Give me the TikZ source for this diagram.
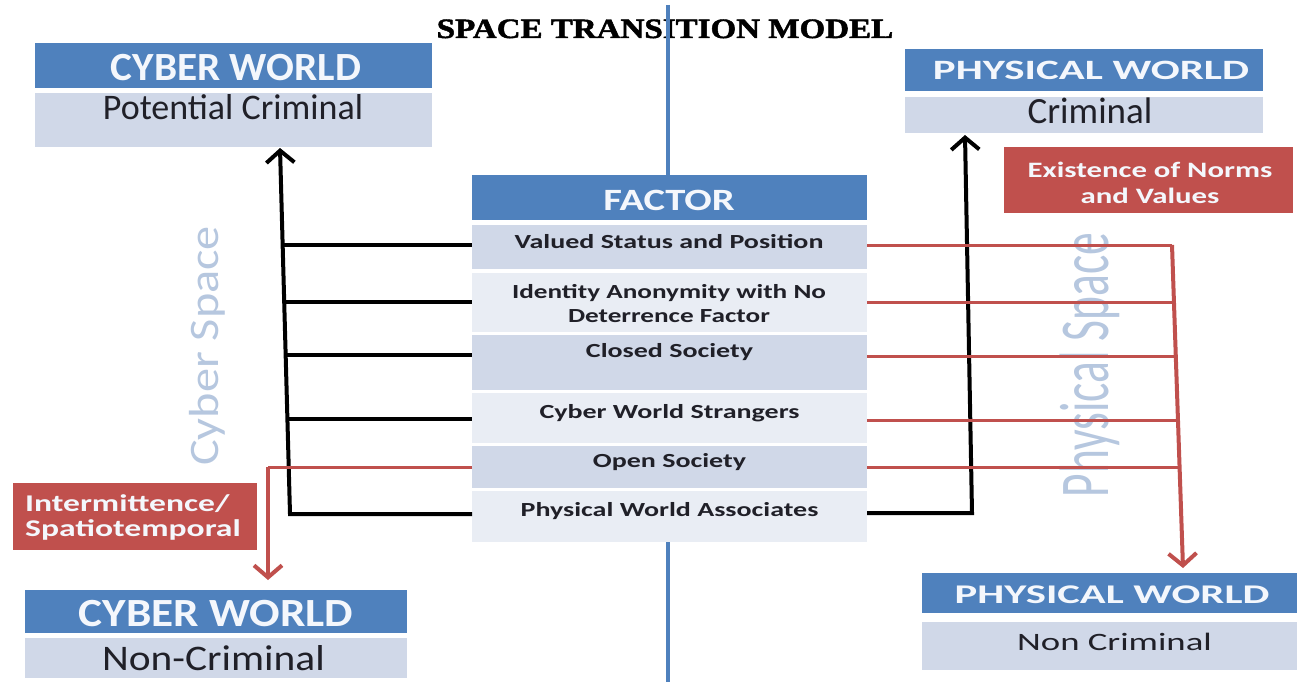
\documentclass[tikz,border=0pt]{standalone}
\usepackage{graphicx}
\usepackage{fontspec}
\setmainfont{Carlito}
\newfontfamily\titlefont{Liberation Serif}[BoldFeatures={FakeBold=1.6}]
\usetikzlibrary{arrows.meta}
\definecolor{hdrblue}{RGB}{79,129,189}
\definecolor{rowdark}{RGB}{208,216,232}
\definecolor{rowlight}{RGB}{233,237,244}
\definecolor{redbox}{RGB}{192,80,77}
\definecolor{spacetxt}{RGB}{182,199,223}
\definecolor{txtdark}{RGB}{32,32,40}
\definecolor{hdrtxt}{RGB}{244,247,252}
% size, baselineskip, horizontal scale, text
\newcommand{\sx}[4]{\scalebox{#3}[1]{\fontsize{#1pt}{#2pt}\selectfont #4}}
\begin{document}
\begin{tikzpicture}[x=1pt,y=-1pt,
  box/.style={inner sep=0pt, outer sep=0pt, draw=none},
  hdr/.style={box, fill=hdrblue},
  bodyb/.style={box, fill=rowdark},
  rowD/.style={box, fill=rowdark, minimum width=395pt},
  rowL/.style={box, fill=rowlight, minimum width=395pt},
  redb/.style={box, fill=redbox},
  lbl/.style={inner sep=0pt, anchor=base},
  mlbl/.style={inner sep=0pt},
  blk/.style={line width=4pt, black, line join=miter},
  blkarr/.style={blk, -{Straight Barb[length=12pt,width=28pt]}},
  redh/.style={line width=3pt, redbox},
  redv/.style={line width=4pt, redbox, line join=miter},
  redarr/.style={redv, -{Straight Barb[length=12pt,width=28pt]}}
]
\useasboundingbox (0,0) rectangle (1297,682);
\fill[white] (0,0) rectangle (1297,682);

% title
\node[lbl] (title) at (665,38) {\sx{28}{28}{1.18}{\titlefont\bfseries SPACE TRANSITION MODEL}};

% central blue axis
\coordinate (axtop) at (668,5);
\coordinate (axbot) at (668,682);
\draw[line width=4pt, hdrblue] (axtop) -- (axbot);

% rotated space labels
\node[lbl, rotate=90, text=spacetxt] (cspace) at (218,346) {\sx{42}{42}{1.15}{Cyber Space}};
\node[lbl, rotate=90, text=spacetxt] (pspace) at (1108,365) {\sx{70}{70}{0.65}{Physical Space}};

% top-left: cyber world / potential criminal
\node[hdr, minimum width=397pt, minimum height=45pt] (cwH) at (233.5,65.5) {};
\node[bodyb, minimum width=397pt, minimum height=54pt] (cwB) at (233.5,120) {};
\node[lbl, text=hdrtxt] (cwHt) at (236,81) {\sx{40}{40}{1.03}{\bfseries CYBER WORLD}};
\node[lbl, text=txtdark] (cwBt) at (233,120) {\sx{36}{36}{1.0}{Potential Criminal}};

% top-right: physical world / criminal
\node[hdr, minimum width=358pt, minimum height=42pt] (pwH) at (1084,70) {};
\node[bodyb, minimum width=358pt, minimum height=36pt] (pwB) at (1084,115) {};
\node[lbl, text=hdrtxt] (pwHt) at (1091,80) {\sx{28}{28}{1.53}{\bfseries PHYSICAL WORLD}};
\node[lbl, text=txtdark] (pwBt) at (1090,124) {\sx{37}{37}{1.0}{Criminal}};

% red: existence of norms and values
\node[redb, minimum width=289pt, minimum height=66pt] (norms) at (1148.5,180) {};
\node[mlbl, text=hdrtxt] (normst) at (1150,184.8) {\sx{22}{26}{1.4}{\bfseries\begin{tabular}{@{}c@{}}Existence of Norms\\and Values\end{tabular}}};

% factor table (white ground hides the axis between rows)
\node[box, fill=white, minimum width=395pt, minimum height=367pt] (facbg) at (669.5,358.5) {};
\node[hdr, minimum width=395pt, minimum height=45pt] (fac) at (669.5,197.5) {};
\node[lbl, text=hdrtxt] (fact) at (669,210) {\sx{31}{31}{1.31}{\bfseries FACTOR}};
\node[rowD, minimum height=44pt] (r1) at (669.5,247) {};
\node[rowL, minimum height=59pt] (r2) at (669.5,302) {};
\node[rowD, minimum height=55pt] (r3) at (669.5,362) {};
\node[rowL, minimum height=50pt] (r4) at (669.5,417.5) {};
\node[rowD, minimum height=42pt] (r5) at (669.5,466.5) {};
\node[rowL, minimum height=51pt] (r6) at (669.5,516) {};
\node[lbl, text=txtdark] (t1) at (669,248) {\sx{20}{20}{1.4}{\bfseries Valued Status and Position}};
\node[mlbl, text=txtdark] (t2) at (669,305.2) {\sx{20}{24}{1.36}{\bfseries\begin{tabular}{@{}c@{}}Identity Anonymity with No\\Deterrence Factor\end{tabular}}};
\node[lbl, text=txtdark] (t3) at (669.5,357) {\sx{20}{20}{1.4}{\bfseries Closed Society}};
\node[lbl, text=txtdark] (t4) at (669.5,418) {\sx{20}{20}{1.4}{\bfseries Cyber World Strangers}};
\node[lbl, text=txtdark] (t5) at (669.5,467) {\sx{20}{20}{1.4}{\bfseries Open Society}};
\node[lbl, text=txtdark] (t6) at (669.5,516) {\sx{20}{20}{1.4}{\bfseries Physical World Associates}};

% red: intermittence
\node[redb, minimum width=244pt, minimum height=67pt] (inter) at (135,516.5) {};
\node[mlbl, anchor=west, text=hdrtxt] (intert) at (25,518.5) {\sx{24}{25}{1.4}{\bfseries\begin{tabular}{@{}l@{}}Intermittence/\\Spatiotemporal\end{tabular}}};

% bottom-left: cyber world / non-criminal
\node[hdr, minimum width=382pt, minimum height=43pt] (cbH) at (216,611.5) {};
\node[bodyb, minimum width=382pt, minimum height=40pt] (cbB) at (216,658) {};
\node[lbl, text=hdrtxt] (cbHt) at (216,626) {\sx{40}{40}{1.13}{\bfseries CYBER WORLD}};
\node[lbl, text=txtdark] (cbBt) at (213.5,670) {\sx{36}{36}{1.15}{Non-Criminal}};

% bottom-right: physical world / non criminal
\node[hdr, minimum width=375pt, minimum height=40pt] (pbH) at (1109.5,593) {};
\node[bodyb, minimum width=375pt, minimum height=48pt] (pbB) at (1109.5,646) {};
\node[lbl, text=hdrtxt] (pbHt) at (1112,603) {\sx{27}{27}{1.58}{\bfseries PHYSICAL WORLD}};
\node[lbl, text=txtdark] (pbBt) at (1114.5,650) {\sx{25}{25}{1.47}{Non Criminal}};

% ---- left black connectors ----
\coordinate (lT) at (280,148);
\coordinate (lB) at (290,514);
\coordinate (l1) at (282.7,245);
\coordinate (l2) at (284.2,302);
\coordinate (l3) at (285.7,355);
\coordinate (l4) at (287.4,419);
\draw[blk] (l1) -- (l1 -| r1.west);
\draw[blk] (l2) -- (l2 -| r2.west);
\draw[blk] (l3) -- (l3 -| r3.west);
\draw[blk] (l4) -- (l4 -| r4.west);
\draw[blkarr] (lB -| r6.west) -- (lB) -- (lT);

% ---- left red connector ----
\coordinate (lr) at (268,467);
\coordinate (lrTip) at (268,580);
\draw[redh] (lr -| r5.west) -- (lr);
\draw[redarr] (lr) -- (lrTip);

% ---- right black connector ----
\coordinate (rB) at (972,513);
\coordinate (rT) at (965,135);
\draw[blkarr] (rB -| r6.east) -- (rB) -- (rT);

% ---- right red connectors ----
\coordinate (v1) at (1172,245);
\coordinate (v2) at (1173.9,302);
\coordinate (v3) at (1175.7,356);
\coordinate (v4) at (1177.9,420);
\coordinate (v5) at (1179.5,467);
\coordinate (vTip) at (1183,568);
\draw[redh] (v1 -| r1.east) -- (v1);
\draw[redh] (v2 -| r2.east) -- (v2);
\draw[redh] (v3 -| r3.east) -- (v3);
\draw[redh] (v4 -| r4.east) -- (v4);
\draw[redh] (v5 -| r5.east) -- (v5);
\draw[redarr] (v1) -- (vTip);
\end{tikzpicture}
\end{document}
